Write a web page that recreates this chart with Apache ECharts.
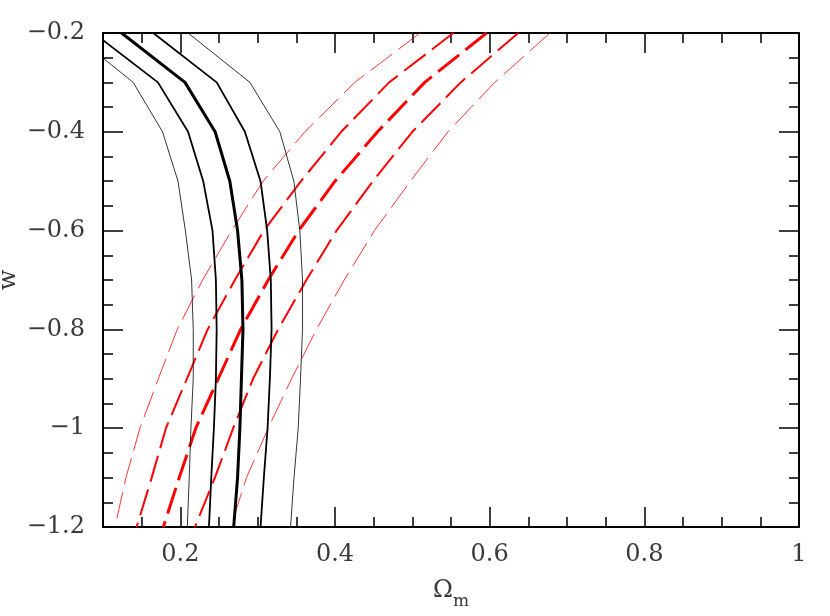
<!DOCTYPE html>
<html>
<head>
<meta charset="utf-8">
<script src="https://cdn.jsdelivr.net/npm/echarts@6/dist/echarts.min.js"></script>
<style>
  html, body { margin: 0; padding: 0; background: #fff; }
  #main { width: 830px; height: 616px; }
</style>
</head>
<body>
<div id="main"></div>
<script>
// w values where the contours were sampled
var wGrid = [-0.2, -0.3, -0.4, -0.5, -0.6, -0.7, -0.8, -0.9, -1.0, -1.1, -1.2];

// black contours (Omega_m at each w)
var blackOuterL = [0.060, 0.139, 0.177, 0.197, 0.2065, 0.2146, 0.2167, 0.2167, 0.2137, 0.2115, 0.209];
var blackInnerL = [0.088, 0.171, 0.210, 0.2296, 0.2416, 0.246, 0.247, 0.246, 0.2434, 0.240, 0.237];
var blackBest   = [0.124, 0.206, 0.245, 0.264, 0.274, 0.2796, 0.281, 0.279, 0.277, 0.274, 0.269];
var blackInnerR = [0.165, 0.247, 0.2835, 0.3037, 0.3123, 0.317, 0.318, 0.3158, 0.3128, 0.308, 0.3037];
var blackOuterR = [0.210, 0.290, 0.3287, 0.3468, 0.3545, 0.358, 0.358, 0.3554, 0.3524, 0.347, 0.3425];

// red dashed contours
var redOuterL = [0.510, 0.4256, 0.361, 0.307, 0.2663, 0.2288, 0.196, 0.1715, 0.1478, 0.1297, 0.1155];
var redInnerL = [0.553, 0.470, 0.408, 0.356, 0.308, 0.2705, 0.2353, 0.2085, 0.1814, 0.163, 0.1435];
var redBest   = [0.596, 0.516, 0.455, 0.400, 0.353, 0.3136, 0.278, 0.249, 0.220, 0.1986, 0.178];
var redInnerR = [0.637, 0.5626, 0.500, 0.449, 0.402, 0.363, 0.3265, 0.294, 0.2684, 0.2447, 0.2189];
var redOuterR = [0.678, 0.6065, 0.546, 0.4975, 0.451, 0.412, 0.376, 0.3438, 0.3136, 0.2856, 0.265];

var xMajorTicks = [0.2, 0.4, 0.6, 0.8, 1];

var font = 'DejaVu Serif';
var txtColor = '#3a3a3a';

function pairs(xs) {
  return xs.map(function (x, i) { return [x, wGrid[i]]; });
}

function fmtNum(v) {
  var s = String(Math.round(Math.abs(v) * 100) / 100);
  return (v < 0 ? '\u2212' : '') + s;
}

function line(xs, color, width, dash) {
  return {
    type: 'line',
    data: pairs(xs),
    showSymbol: false,
    symbol: 'none',
    clip: true,
    silent: true,
    lineStyle: { color: color, width: width, type: dash || 'solid' },
    z: color === '#000' ? 3 : 2
  };
}

var axisLineStyle = { color: '#000', width: 2 };
var tickStyle = { color: '#000', width: 1.5 };

var chart = echarts.init(document.getElementById('main'));
var option = {
  animation: false,
  backgroundColor: '#fff',
  grid: { left: 103, right: 31, top: 33, bottom: 89, containLabel: false, outerBoundsMode: 'none' },
  xAxis: [
    {
      type: 'value', position: 'bottom', min: 0.1, max: 1,
      axisLine: { show: true, onZero: false, lineStyle: axisLineStyle },
      axisTick: { show: true, inside: true, length: 20, customValues: xMajorTicks, lineStyle: tickStyle },
      axisLabel: { customValues: xMajorTicks, formatter: fmtNum, fontFamily: font, fontSize: 24, color: txtColor, margin: 16 },
      splitLine: { show: false },
      name: '{a|\u03A9}{b|m}', nameLocation: 'middle', nameGap: 52, nameMoveOverlap: false,
      nameTextStyle: {
        rich: {
          a: { fontFamily: font, fontSize: 24, color: txtColor, lineHeight: 24, verticalAlign: 'top' },
          b: { fontFamily: font, fontSize: 17, color: txtColor, lineHeight: 17, verticalAlign: 'top', padding: [14, 0, 0, 0] }
        }
      }
    },
    {
      type: 'value', position: 'top', min: 0.1, max: 1,
      axisLine: { show: true, onZero: false, lineStyle: axisLineStyle },
      axisTick: { show: true, inside: true, length: 20, customValues: xMajorTicks, lineStyle: tickStyle },
      axisLabel: { show: false },
      splitLine: { show: false }
    },
    {
      type: 'value', position: 'bottom', min: 0.1, max: 1, interval: 0.05,
      axisLine: { show: false, onZero: false },
      axisTick: { show: true, inside: true, length: 10, lineStyle: tickStyle },
      axisLabel: { show: false },
      splitLine: { show: false }
    },
    {
      type: 'value', position: 'top', min: 0.1, max: 1, interval: 0.05,
      axisLine: { show: false, onZero: false },
      axisTick: { show: true, inside: true, length: 10, lineStyle: tickStyle },
      axisLabel: { show: false },
      splitLine: { show: false }
    }
  ],
  yAxis: [
    {
      type: 'value', position: 'left', min: -1.2, max: -0.2, interval: 0.2,
      axisLine: { show: true, onZero: false, lineStyle: axisLineStyle },
      axisTick: { show: true, inside: true, length: 20, lineStyle: tickStyle },
      minorTick: { show: true, splitNumber: 4, length: 10, lineStyle: tickStyle },
      axisLabel: { formatter: fmtNum, fontFamily: font, fontSize: 24, color: txtColor, margin: 18 },
      splitLine: { show: false },
      name: 'w', nameLocation: 'middle', nameGap: 82, nameMoveOverlap: false,
      nameTextStyle: { fontFamily: font, fontSize: 24, color: txtColor }
    },
    {
      type: 'value', position: 'right', min: -1.2, max: -0.2, interval: 0.2,
      axisLine: { show: true, onZero: false, lineStyle: axisLineStyle },
      axisTick: { show: true, inside: true, length: 20, lineStyle: tickStyle },
      minorTick: { show: true, splitNumber: 4, length: 10, lineStyle: tickStyle },
      axisLabel: { show: false },
      splitLine: { show: false }
    }
  ],
  series: [
    line(redOuterL, '#ff0000', 0.8, [27, 8]),
    line(redInnerL, '#ff0000', 2, [27, 8]),
    line(redBest, '#ff0000', 3, [27, 8]),
    line(redInnerR, '#ff0000', 2, [27, 8]),
    line(redOuterR, '#ff0000', 0.8, [27, 8]),
    line(blackOuterL, '#000', 0.8),
    line(blackInnerL, '#000', 1.8),
    line(blackBest, '#000', 3),
    line(blackInnerR, '#000', 1.8),
    line(blackOuterR, '#000', 0.8)
  ]
};
chart.setOption(option);
</script>
</body>
</html>
